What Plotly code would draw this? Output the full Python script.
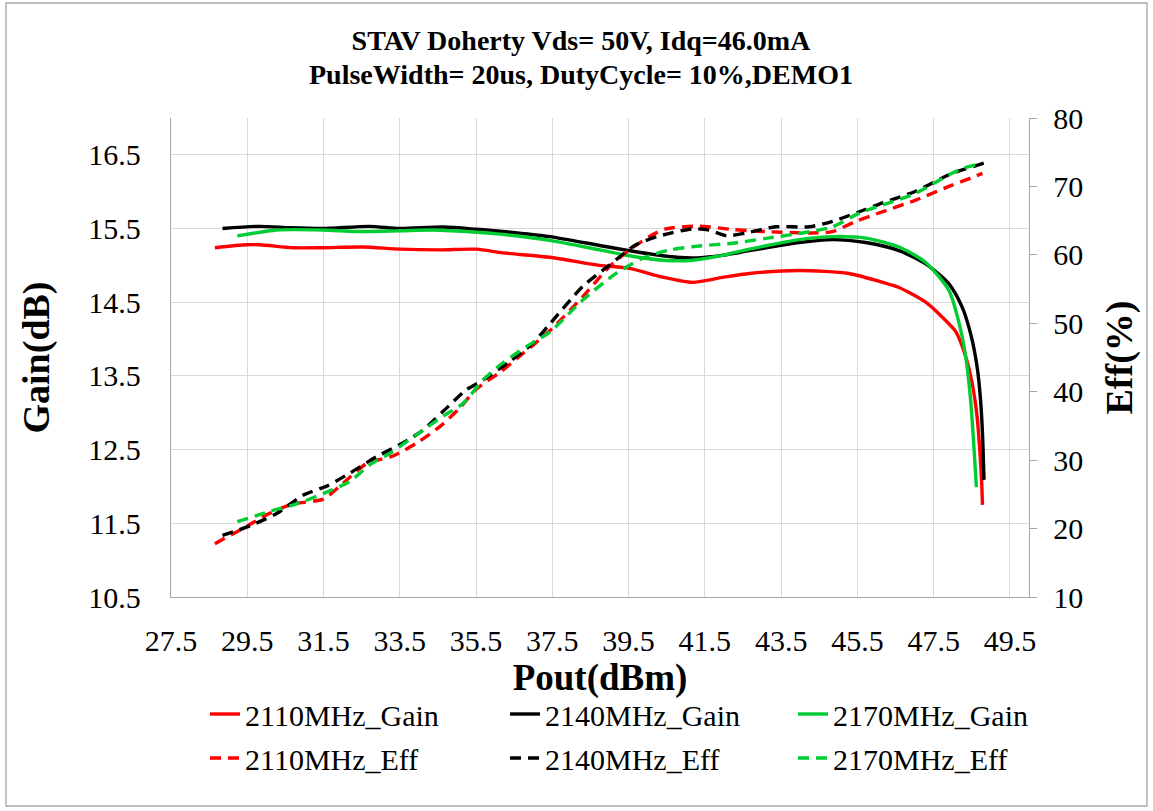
import plotly.graph_objects as go

# ---------------- data ----------------
x_2110_gain = [28.65, 29.48, 29.83, 30.70, 31.48, 32.53, 33.50, 34.55, 35.51, 36.20, 37.43, 38.74, 39.52,
               40.40, 41.18, 42.00, 42.67, 43.97, 45.28, 46.16, 46.59, 47.29, 47.72, 48.08, 48.34, 48.51,
               48.64, 48.71, 48.76, 48.78]
y_2110_gain = [15.24, 15.28, 15.28, 15.24, 15.24, 15.25, 15.22, 15.21, 15.22, 15.17, 15.11, 15.00, 14.96,
               14.84, 14.77, 14.84, 14.89, 14.93, 14.89, 14.77, 14.70, 14.50, 14.30, 14.10, 13.76, 13.40,
               12.94, 12.49, 12.04, 11.75]

x_2140_gain = [28.85, 29.83, 30.62, 31.49, 32.71, 33.50, 34.63, 35.51, 36.20, 37.43, 38.74, 39.52, 40.40,
               41.18, 42.00, 42.67, 43.97, 44.85, 45.72, 46.59, 47.29, 47.90, 48.25, 48.47, 48.64, 48.73,
               48.78, 48.82]
y_2140_gain = [15.50, 15.53, 15.51, 15.50, 15.53, 15.50, 15.52, 15.49, 15.46, 15.39, 15.27, 15.20, 15.13,
               15.10, 15.14, 15.20, 15.31, 15.35, 15.31, 15.20, 15.02, 14.75, 14.43, 14.07, 13.62, 13.17,
               12.72, 12.09]

x_2170_gain = [29.24, 30.27, 31.49, 32.36, 33.50, 34.37, 35.51, 36.20, 37.43, 38.74, 39.52, 40.40, 41.18,
               42.00, 42.67, 43.97, 44.85, 45.72, 46.59, 47.29, 47.90, 48.17, 48.34, 48.47, 48.55, 48.62]
y_2170_gain = [15.40, 15.48, 15.48, 15.46, 15.47, 15.48, 15.45, 15.42, 15.34, 15.21, 15.13, 15.07, 15.07,
               15.14, 15.22, 15.35, 15.39, 15.37, 15.25, 15.04, 14.66, 14.21, 13.76, 13.17, 12.58, 11.99]

x_2110_eff = [28.65, 29.48, 30.00, 30.70, 31.49, 32.01, 32.63, 33.32, 33.94, 34.55, 35.07, 35.51, 36.12,
              36.73, 37.43, 38.30, 39.00, 39.52, 40.05, 40.48, 41.36, 42.23, 43.10, 44.24, 44.85, 45.46,
              46.16, 47.03, 47.90, 48.60, 48.78]
y_2110_eff = [17.8, 20.3, 22.0, 23.6, 24.3, 26.6, 29.5, 30.6, 32.5, 34.9, 37.6, 40.4, 42.8,
              45.6, 48.9, 53.9, 58.3, 60.7, 62.7, 63.8, 64.2, 63.7, 63.4, 63.2, 63.4, 64.9,
              66.3, 68.0, 70.0, 71.5, 71.9]

x_2140_eff = [28.85, 29.57, 30.27, 30.97, 31.58, 32.19, 32.89, 33.58, 34.11, 34.63, 35.25, 35.68, 36.38,
              36.99, 37.45, 38.30, 39.00, 39.70, 40.40, 41.18, 41.62, 42.06, 42.58, 43.36, 44.24, 44.85,
              45.55, 46.16, 47.03, 47.90, 48.82]
y_2140_eff = [19.0, 20.4, 22.2, 24.9, 26.2, 28.1, 30.5, 32.5, 34.4, 37.1, 40.3, 41.7, 44.4,
              47.1, 50.0, 55.4, 58.5, 61.5, 62.9, 63.8, 63.6, 62.8, 63.2, 64.1, 64.1, 64.9,
              66.3, 67.6, 69.3, 71.7, 73.4]

x_2170_eff = [29.24, 30.09, 30.79, 31.49, 32.19, 32.71, 33.24, 33.94, 34.63, 35.16, 35.68, 36.20, 36.82,
              37.43, 38.30, 39.17, 39.87, 40.57, 41.36, 42.23, 43.10, 44.06, 44.85, 45.55, 46.16, 47.03,
              47.90, 48.30, 48.62]
y_2170_eff = [21.0, 22.5, 23.6, 25.1, 26.9, 29.3, 31.0, 33.7, 36.4, 38.3, 41.7, 44.2, 46.6,
              48.7, 53.4, 57.3, 59.5, 60.7, 61.3, 61.7, 62.4, 63.2, 64.1, 66.1, 67.3, 69.0,
              71.7, 72.7, 73.2]

x_ticks = [27.5, 29.5, 31.5, 33.5, 35.5, 37.5, 39.5, 41.5, 43.5, 45.5, 47.5, 49.5]
gain_ticks = [10.5, 11.5, 12.5, 13.5, 14.5, 15.5, 16.5]
eff_ticks = [10, 20, 30, 40, 50, 60, 70, 80]

title_line1 = "STAV Doherty Vds= 50V, Idq=46.0mA"
title_line2 = "PulseWidth= 20us, DutyCycle= 10%,DEMO1"

# ---------------- style ----------------
RED, BLACK, GREEN = "#FF0000", "#000000", "#00CC33"
FONT = "Liberation Serif, Times New Roman, serif"
LW = 3.4
DASH = "11px,7px"

W, H = 1153, 811
L, R, T, B = 171, 124, 118, 214
pw = W - L - R
ph = H - T - B

def px_x(px):
    return (px - L) / pw

def px_y(py):
    return (H - B - py) / ph

TICK = 30
ATITLE = 37
LEG = 30
TFONT = 28

# legend slot positions (column text start, row centre) in pixels
leg_cols = [205, 505, 793]
leg_rows = [714, 758]

fig = go.Figure()

gain_series = [("2110MHz_Gain", x_2110_gain, y_2110_gain, RED),
               ("2140MHz_Gain", x_2140_gain, y_2140_gain, BLACK),
               ("2170MHz_Gain", x_2170_gain, y_2170_gain, GREEN)]
eff_series = [("2110MHz_Eff", x_2110_eff, y_2110_eff, RED),
              ("2140MHz_Eff", x_2140_eff, y_2140_eff, BLACK),
              ("2170MHz_Eff", x_2170_eff, y_2170_eff, GREEN)]

legends = {}
idx = 1
for row, (series, axis, dash) in enumerate([(gain_series, "y", None), (eff_series, "y2", DASH)]):
    for col, (name, xs, ys, c) in enumerate(series):
        lname = "legend" if idx == 1 else f"legend{idx}"
        line = dict(color=c, width=LW, shape="spline", smoothing=0.7)
        if dash:
            line["dash"] = dash
        fig.add_trace(go.Scatter(x=xs, y=ys, name=name, mode="lines", line=line,
                                 yaxis=axis, legend=lname))
        legends[lname] = dict(orientation="h", x=px_x(leg_cols[col]), xanchor="left",
                              y=px_y(leg_rows[row]), yanchor="middle",
                              bgcolor="rgba(0,0,0,0)", font=dict(family=FONT, size=LEG),
                              itemwidth=30)
        idx += 1

fig.update_layout(
    width=W, height=H,
    margin=dict(l=L, r=R, t=T, b=B, pad=0, autoexpand=False),
    paper_bgcolor="white", plot_bgcolor="white",
    font=dict(family=FONT, color="black"),
    title=dict(text="<b>" + title_line1 + "</b>",
               x=581 / W, xref="container", xanchor="center",
               y=1 - 40 / H, yref="container", yanchor="middle",
               font=dict(family=FONT, size=TFONT, color="black")),
    annotations=[dict(text="<b>" + title_line2 + "</b>", xref="paper", yref="paper",
                      x=px_x(581), y=px_y(74), xanchor="center", yanchor="middle",
                      showarrow=False, font=dict(family=FONT, size=TFONT, color="black"))],
    xaxis=dict(range=[27.5, 50], tickvals=x_ticks, ticktext=[f"{v:.1f}" for v in x_ticks],
               showgrid=True, gridcolor="#D9D9D9", gridwidth=1,
               showline=True, linecolor="#A6A6A6", linewidth=1.3, mirror=False,
               ticks="", zeroline=False, ticklabelstandoff=17,
               tickfont=dict(family=FONT, size=TICK),
               title=dict(text="<b>Pout(dBm)</b>", font=dict(family=FONT, size=ATITLE), standoff=6)),
    yaxis=dict(range=[10.5, 17], tickvals=gain_ticks, ticktext=[f"{v:.1f}" for v in gain_ticks],
               showgrid=True, gridcolor="#D9D9D9", gridwidth=1,
               showline=True, linecolor="#A6A6A6", linewidth=1.3,
               ticks="", zeroline=False, ticklabelstandoff=23,
               tickfont=dict(family=FONT, size=TICK),
               title=dict(text="<b>Gain(dB)</b>", font=dict(family=FONT, size=38), standoff=27)),
    yaxis2=dict(range=[10, 80], tickvals=eff_ticks, overlaying="y", side="right",
                showgrid=False, showline=True, linecolor="#A6A6A6", linewidth=1.3,
                ticks="outside", ticklen=7, tickcolor="#A6A6A6", zeroline=False,
                ticklabelstandoff=10,
                tickfont=dict(family=FONT, size=TICK),
                title=dict(text="<b>Eff(%)</b>", font=dict(family=FONT, size=38), standoff=23)),
    showlegend=True,
    shapes=[dict(type="rect", xref="paper", yref="paper",
                 x0=px_x(6), x1=px_x(1147), y0=px_y(806), y1=px_y(3),
                 line=dict(color="#A6A6A6", width=1.3), fillcolor="rgba(0,0,0,0)", layer="below")],
    **legends,
)

fig.write_html("out.html", config={"displayModeBar": False},
               post_script="document.body.style.margin='0px';")
